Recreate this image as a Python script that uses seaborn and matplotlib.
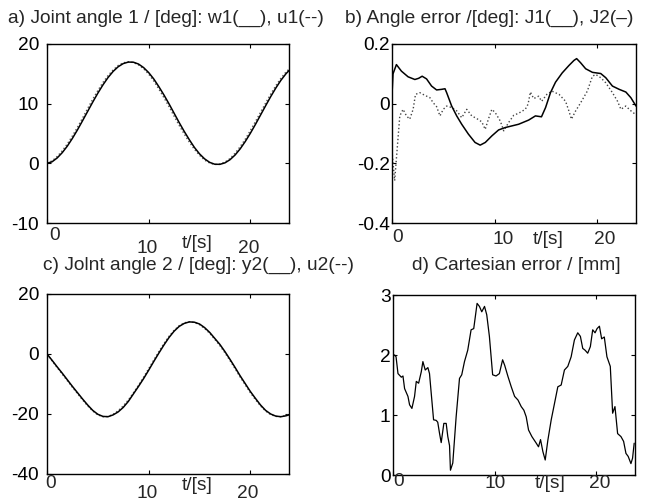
import numpy as np
import matplotlib
matplotlib.use("Agg")
import matplotlib.pyplot as plt
import seaborn as sns

# ---------------- data ----------------
t_grid = [0.0, 0.5, 1.0, 1.5, 2.0, 2.5, 3.0, 3.5, 4.0, 4.5, 5.0, 5.5, 6.0, 6.5, 7.0, 7.5,
          8.0, 8.5, 9.0, 9.5, 10.0, 10.5, 11.0, 11.5, 12.0, 12.5, 13.0, 13.5, 14.0, 14.5,
          15.0, 15.5, 16.0, 16.5, 17.0, 17.5, 18.0, 18.5, 19.0, 19.5, 20.0, 20.5, 21.0,
          21.5, 22.0, 22.5, 23.0, 23.5, 24.0]

w1 = [0.0, 0.26, 0.90, 1.79, 2.89, 4.19, 5.62, 7.15, 8.71, 10.27, 11.76, 13.14, 14.37, 15.40,
      16.19, 16.72, 16.97, 16.95, 16.64, 16.05, 15.21, 14.14, 12.85, 11.46, 9.97, 8.40, 6.83,
      5.34, 3.95, 2.66, 1.59, 0.75, 0.16, -0.15, -0.17, 0.08, 0.61, 1.40, 2.43, 3.66, 5.04,
      6.53, 8.09, 9.65, 11.18, 12.61, 13.91, 15.01, 15.90]
u1 = [0.1, 0.4, 1.15, 2.1, 3.25, 4.6, 6.05, 7.6, 9.2, 10.75, 12.2, 13.55, 14.7, 15.65, 16.4,
      16.85, 17.02, 16.9, 16.5, 15.85, 14.95, 13.8, 12.45, 11.0, 9.5, 7.9, 6.35, 4.9, 3.55,
      2.35, 1.35, 0.55, 0.05, -0.2, -0.12, 0.2, 0.8, 1.7, 2.8, 4.05, 5.5, 7.0, 8.55, 10.1,
      11.6, 13.0, 14.25, 15.3, 16.1]

y2 = [0.0, -2.1, -4.3, -6.4, -8.6, -10.8, -12.9, -15.0, -17.0, -18.8, -20.1, -20.8, -20.9,
      -20.3, -19.3, -17.8, -15.8, -13.3, -10.8, -8.2, -5.4, -2.5, 0.3, 3.0, 5.5, 7.6, 9.2,
      10.2, 10.7, 10.6, 10.0, 8.8, 7.2, 5.2, 3.2, 0.8, -1.8, -4.5, -7.3, -9.9, -12.5, -14.8,
      -17.0, -18.8, -20.0, -20.7, -20.9, -20.6, -20.1]
u2 = [0.0, -2.3, -4.5, -6.7, -8.9, -11.1, -13.2, -15.3, -17.3, -19.0, -20.3, -20.9, -20.85,
      -20.1, -18.9, -17.3, -15.3, -12.9, -10.4, -7.7, -4.9, -2.0, 0.8, 3.5, 5.9, 7.9, 9.45,
      10.4, 10.75, 10.5, 9.8, 8.5, 6.9, 4.9, 2.8, 0.4, -2.2, -4.9, -7.7, -10.3, -12.9, -15.2,
      -17.3, -19.0, -20.2, -20.8, -20.9, -20.5, -19.9]

t_J1 = [0, 0.1, 0.43, 0.92, 1.57, 2.23, 2.6, 2.94, 3.37, 3.86, 4.35, 4.84, 5.17, 5.33, 5.82,
        6.31, 6.8, 7.45, 8.1, 8.6, 9.1, 9.74, 10.4, 11.05, 12.35, 13.33, 13.99, 14.58, 14.98,
        15.46, 15.95, 16.6, 17.26, 17.75, 18.01, 18.4, 18.89, 19.55, 20.36, 20.85, 21.5,
        22.16, 22.81, 23.3, 23.8]
J1 = [0.03, 0.10, 0.131, 0.109, 0.09, 0.081, 0.085, 0.092, 0.083, 0.059, 0.046, 0.048, 0.05,
      0.037, -0.008, -0.041, -0.069, -0.102, -0.13, -0.139, -0.13, -0.108, -0.088, -0.08,
      -0.069, -0.055, -0.041, -0.044, -0.013, 0.037, 0.072, 0.103, 0.128, 0.145, 0.151,
      0.137, 0.117, 0.105, 0.101, 0.087, 0.059, 0.048, 0.039, 0.02, -0.008]

t_J2 = [0, 0.26, 0.76, 1.08, 1.41, 1.73, 2.06, 2.29, 2.71, 3.2, 3.7, 4.02, 4.35, 4.68, 5.0,
        5.33, 5.82, 6.31, 6.8, 7.29, 7.78, 8.27, 8.76, 9.09, 9.42, 9.74, 10.07, 10.56, 10.9,
        11.38, 11.87, 12.35, 13.0, 13.27, 13.5, 13.82, 14.3, 14.6, 15.1, 15.6, 16.3, 16.93,
        17.26, 17.5, 17.9, 18.4, 19.05, 19.55, 19.87, 20.36, 20.85, 21.5, 22.0, 22.33, 22.8,
        23.3, 23.75]
J2 = [-0.16, -0.258, -0.041, -0.019, -0.041, -0.052, -0.019, 0.031, 0.037, 0.028, 0.02,
      0.003, -0.01, -0.041, -0.019, -0.008, -0.013, -0.024, -0.047, -0.019, -0.041, -0.05,
      -0.061, -0.086, -0.05, -0.019, -0.03, -0.058, -0.091, -0.063, -0.039, -0.032, -0.019,
      -0.002, 0.039, 0.017, 0.025, 0.008, 0.031, 0.042, 0.031, 0.008, -0.025, -0.052,
      -0.025, 0.003, 0.042, 0.092, 0.098, 0.087, 0.07, 0.037, 0.008, -0.019, -0.008,
      -0.024, -0.036]

t_cart = [0, 0.05, 0.16, 0.3, 0.49, 0.82, 0.98, 1.14, 1.47, 1.63, 1.86, 2.12, 2.29, 2.52,
          2.78, 2.94, 3.17, 3.43, 3.59, 3.76, 3.99, 4.25, 4.4, 4.58, 4.74, 5.0, 5.23, 5.39,
          5.56, 5.65, 5.88, 6.21, 6.54, 6.76, 7.03, 7.35, 7.68, 7.94, 8.27, 8.5, 8.73, 9.0,
          9.22, 9.48, 9.8, 10.13, 10.46, 10.78, 10.98, 11.31, 11.63, 11.96, 12.29, 12.61,
          12.87, 13.1, 13.33, 13.66, 14.09, 14.31, 14.51, 14.74, 14.97, 15.23, 15.56, 15.88,
          16.21, 16.54, 16.86, 17.19, 17.52, 17.84, 18.17, 18.43, 18.66, 18.89, 19.15, 19.41,
          19.64, 19.87, 20.07, 20.3, 20.52, 20.78, 21.04, 21.37, 21.6, 21.83, 22.09, 22.42,
          22.68, 22.91, 23.13, 23.4, 23.56, 23.72]
cart_err = [0.1, 2.0, 2.0, 1.97, 1.69, 1.63, 1.65, 1.44, 1.31, 1.17, 1.11, 1.31, 1.56, 1.53,
            1.72, 1.89, 1.75, 1.79, 1.69, 1.36, 0.92, 0.91, 0.88, 0.69, 0.54, 0.86, 0.86,
            0.64, 0.49, 0.08, 0.2, 0.97, 1.61, 1.67, 1.89, 2.08, 2.42, 2.44, 2.86, 2.81, 2.72,
            2.81, 2.67, 2.31, 1.67, 1.65, 1.69, 1.92, 1.83, 1.64, 1.47, 1.31, 1.25, 1.14,
            1.08, 0.97, 0.75, 0.64, 0.53, 0.47, 0.59, 0.39, 0.25, 0.58, 0.92, 1.19, 1.47,
            1.5, 1.75, 1.81, 1.97, 2.25, 2.37, 2.31, 2.11, 2.08, 2.03, 2.14, 2.42, 2.37, 2.44,
            2.48, 2.27, 2.3, 1.97, 1.81, 1.03, 1.14, 0.69, 0.64, 0.56, 0.36, 0.31, 0.19, 0.28,
            0.53]

titles = ["a) Joint angle 1 / [deg]: w1(__), u1(--)",
          "b) Angle error /[deg]: J1(__), J2(\u2013)",
          "c) Jolnt angle 2 / [deg]: y2(__), u2(--)",
          "d) Cartesian error / [mm]"]
x_ticks = [0, 10, 20]
x_tick_labels = ["0", "10", "20"]
x_unit = "t/[s]"
y_ticks = [[-10, 0, 10, 20], [-0.4, -0.2, 0, 0.2], [-40, -20, 0, 20], [0, 1, 2, 3]]
y_tick_labels = [["-10", "0", "10", "20"], ["-0.4", "-0.2", "0", "0.2"],
                 ["-40", "-20", "0", "20"], ["0", "1", "2", "3"]]

# ---------------- style ----------------
sns.set_style("white")
plt.rcParams["font.family"] = ["Liberation Sans", "DejaVu Sans"]
FS = 13.8
W, H = 650, 503
fig = plt.figure(figsize=(W / 100, H / 100), dpi=100)


def fx(px):
    return px / W


def fy(py):
    return 1 - py / H


def add_ax(l, t, r, b):
    return fig.add_axes([fx(l), fy(b), fx(r - l), (b - t) / H])


boxes = [(47, 44, 289, 223), (392, 44, 636, 223), (47, 294, 289, 474), (393, 295, 635, 475)]
axes = [add_ax(*bx) for bx in boxes]
ylims = [(-10, 20), (-0.4, 0.2), (-40, 20), (0, 3)]
ypads = [5.8, 1.5, 5.8, 1.8]

sns.lineplot(x=t_grid, y=u1, ax=axes[0], color="#555555", lw=1.0, linestyle=":",
             estimator=None, sort=False)
sns.lineplot(x=t_grid, y=w1, ax=axes[0], color="black", lw=1.1, estimator=None, sort=False)

sns.lineplot(x=t_J2, y=J2, ax=axes[1], color="#444444", lw=1.0, linestyle=":",
             estimator=None, sort=False)
sns.lineplot(x=t_J1, y=J1, ax=axes[1], color="black", lw=1.1, estimator=None, sort=False)

sns.lineplot(x=t_grid, y=u2, ax=axes[2], color="#555555", lw=1.0, linestyle=":",
             estimator=None, sort=False)
sns.lineplot(x=t_grid, y=y2, ax=axes[2], color="black", lw=1.1, estimator=None, sort=False)

sns.lineplot(x=t_cart, y=cart_err, ax=axes[3], color="black", lw=0.9, estimator=None,
             sort=False)

for i, ax in enumerate(axes):
    ax.set_xlim(0, 23.8)
    ax.set_ylim(*ylims[i])
    ax.set_xticks(x_ticks)
    ax.set_xticklabels([])
    ax.set_yticks(y_ticks[i])
    ax.set_yticklabels(y_tick_labels[i])
    ax.tick_params(direction="in", length=3, width=0.8, top=True, right=True,
                   bottom=True, left=True, labelsize=FS, pad=ypads[i], colors="black")
    ax.tick_params(axis="x", labelbottom=False)
    for s in ax.spines.values():
        s.set_visible(True)
        s.set_color("black")
        s.set_linewidth(1.0)
    ax.set_xlabel("")
    ax.set_ylabel("")
    ax.grid(False)

# titles (pixel positions: left x, center y)
title_pos = [(8, 18), (345, 18), (43, 265), (412, 265)]
for (px, py), txt in zip(title_pos, titles):
    fig.text(fx(px), fy(py), txt, ha="left", va="center", fontsize=FS)

# x tick labels as placed in the original (pixel centres)
xlab_pos = [
    [(55, 235), (147, 248), (197, 244), (249, 248)],
    [(398, 238), (503, 239), (548, 239), (605, 239)],
    [(51, 483), (147, 493), (197, 486), (248, 494)],
    [(399, 481), (495, 483), (550, 483), (600, 483)],
]
for pos in xlab_pos:
    texts = [x_tick_labels[0], x_tick_labels[1], x_unit, x_tick_labels[2]]
    for (px, py), txt in zip(pos, texts):
        fig.text(fx(px), fy(py), txt, ha="center", va="center", fontsize=FS)

fig.savefig("out.png", dpi=100)
